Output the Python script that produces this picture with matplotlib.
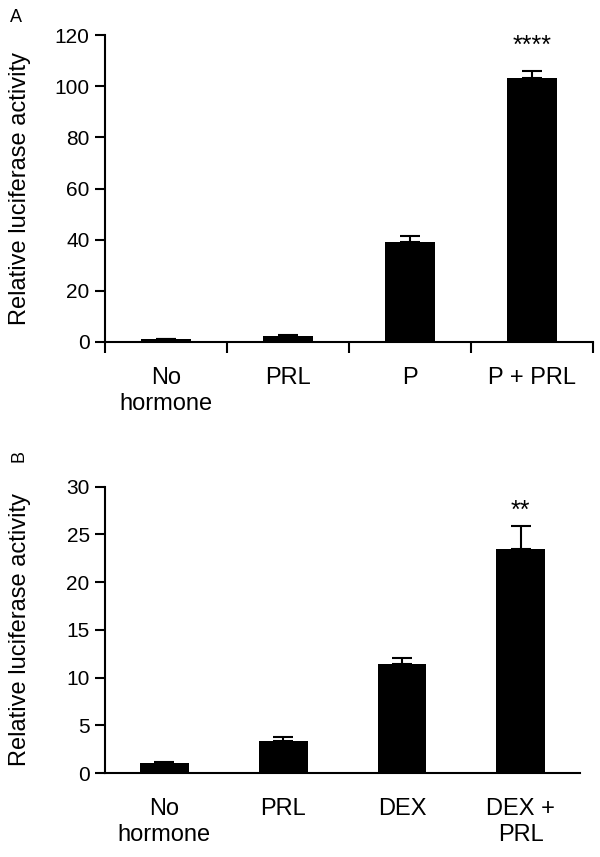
import matplotlib.pyplot as plt
import numpy as np

plt.rcParams['font.family'] = ['Liberation Sans', 'DejaVu Sans']

labels_a = ["No\nhormone", "PRL", "P", "P + PRL"]
means_a = [1.0, 2.2, 39.0, 103.2]
errs_a = [0.2, 0.5, 2.6, 2.6]

labels_b = ["No\nhormone", "PRL", "DEX", "DEX +\nPRL"]
means_b = [1.1, 3.4, 11.4, 23.5]
errs_b = [0.1, 0.35, 0.7, 2.4]

fig = plt.figure(figsize=(6, 8.57), dpi=100)
ax_a = fig.add_axes([0.175, 0.601, 0.813, 0.358])
ax_b = fig.add_axes([0.175, 0.098, 0.792, 0.334])


def draw_panel(ax, labels, means, errs, ymax, step, stars, star_y, boundary_ticks):
    idx = np.arange(len(labels))
    ax.bar(idx, means, 0.41, color="black", zorder=2)
    ax.errorbar(idx, means, yerr=[np.zeros(len(errs)), errs], fmt="none",
                ecolor="black", elinewidth=1.5, capsize=7, capthick=1.5, zorder=3)
    ax.set_xlim(-0.5, len(labels) - 0.5)
    ax.set_ylim(0, ymax)
    ax.set_yticks(np.arange(0, ymax + step / 2, step))
    ax.set_xticks(idx)
    ax.set_xticklabels(labels, fontsize=17, linespacing=1.25, va="top")
    ax.tick_params(axis="x", length=0, pad=18)
    ax.tick_params(axis="y", labelsize=15, length=7, width=1.5, pad=4)
    if boundary_ticks:
        ax.set_xticks(np.arange(-0.5, len(labels), 1.0), minor=True)
        ax.tick_params(axis="x", which="minor", length=8, width=1.5, direction="out")
    for s in ["top", "right"]:
        ax.spines[s].set_visible(False)
    for s in ["left", "bottom"]:
        ax.spines[s].set_linewidth(1.5)
    ax.set_ylabel("Relative luciferase activity", fontsize=17, va="center")
    width_px = ax.get_position().width * fig.get_figwidth() * fig.dpi
    ax.yaxis.set_label_coords(-85 / width_px, 0.5)
    ax.text(len(means) - 1, star_y, stars, ha="center", va="center", fontsize=18)


draw_panel(ax_a, labels_a, means_a, errs_a, 120, 20, "****", 116, True)
draw_panel(ax_b, labels_b, means_b, errs_b, 30, 5, "**", 27.5, False)

fig.text(0.017, 0.979, "A", fontsize=13, va="center", ha="left")
fig.text(0.032, 0.468, "B", fontsize=13, va="center", ha="center", rotation=90)

fig.savefig("out.png", dpi=100)
